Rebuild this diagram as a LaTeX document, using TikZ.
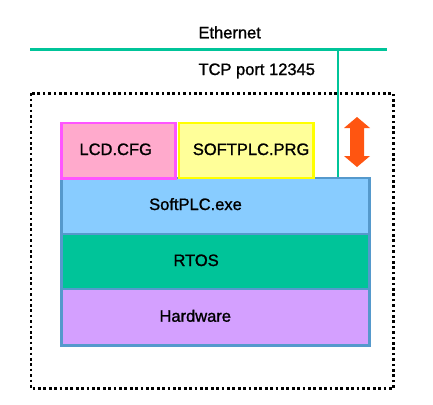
\documentclass[tikz,border=0pt]{standalone}
\usepackage{fontspec}
\setmainfont{Liberation Sans}[BoldFont={Liberation Sans},BoldFeatures={FakeBold=1.2}]
\definecolor{teal1}{HTML}{00C499}
\definecolor{magb}{HTML}{FF55FF}
\definecolor{magf}{HTML}{FFAACC}
\definecolor{yelb}{HTML}{FFFF00}
\definecolor{yelf}{HTML}{FFFF99}
\definecolor{bluef}{HTML}{88CCFF}
\definecolor{blueb}{HTML}{5599CC}
\definecolor{purf}{HTML}{D4A0FF}
\definecolor{orng}{HTML}{FF5511}
\begin{document}
\begin{tikzpicture}[x=1pt,y=-1pt,
  lbl/.style={inner sep=0pt,anchor=base west,font=\fontsize{16.5}{18}\selectfont\bfseries},
  net/.style={draw=teal1,line width=2.7pt},
  dotbox/.style={draw=black,line width=2.7pt,dash pattern=on 2.7pt off 2.7pt},
]
\useasboundingbox[fill=white] (0,0) rectangle (433,404);
% dotted enclosure
\draw[dotbox] (31,93.3) rectangle (393.5,388.7);
% ethernet
\coordinate (ethL) at (30,49.3);
\coordinate (ethR) at (386.7,49.3);
\coordinate (ethT) at (338,49.3);
\coordinate (stackT) at (338,178);
\draw[net] (ethL) -- (ethR);
\draw[net] (ethT) -- (stackT);
% stack layers
\fill[bluef] (61.3,178) rectangle (369.3,234);
\fill[teal1] (61.3,234) rectangle (369.3,289);
\fill[purf] (61.3,289) rectangle (369.3,345.3);
\draw[blueb,line width=2.7pt] (61.3,234) -- (369.3,234);
\draw[blueb,line width=2.7pt] (61.3,289) -- (369.3,289);
\draw[blueb,line width=2.7pt] (61.3,178) rectangle (369.3,345.3);
% upper boxes
\draw[draw=magb,fill=magf,line width=2.7pt] (61.3,123) rectangle (175.7,178.5);
\draw[draw=yelb,fill=yelf,line width=2.7pt] (179,123) rectangle (313.7,178);
% arrow
\fill[orng] (357,117) -- (370,128) -- (364,128) -- (364,156) -- (370,156) -- (357,167)
  -- (344,156) -- (350,156) -- (350,128) -- (344,128) -- cycle;
% labels
\node[lbl] (eth) at (198.3,38.3) {Ethernet};
\node[lbl] (tcp) at (198.3,75) {TCP port 12345};
\node[lbl] (lcd) at (79.3,155) {LCD.CFG};
\node[lbl] (prg) at (192.7,155) {SOFTPLC.PRG};
\node[lbl] (exe) at (149,210) {SoftPLC.exe};
\node[lbl] (rtos) at (173.3,266) {RTOS};
\node[lbl] (hw) at (159.3,321.7) {Hardware};
\end{tikzpicture}
\end{document}
